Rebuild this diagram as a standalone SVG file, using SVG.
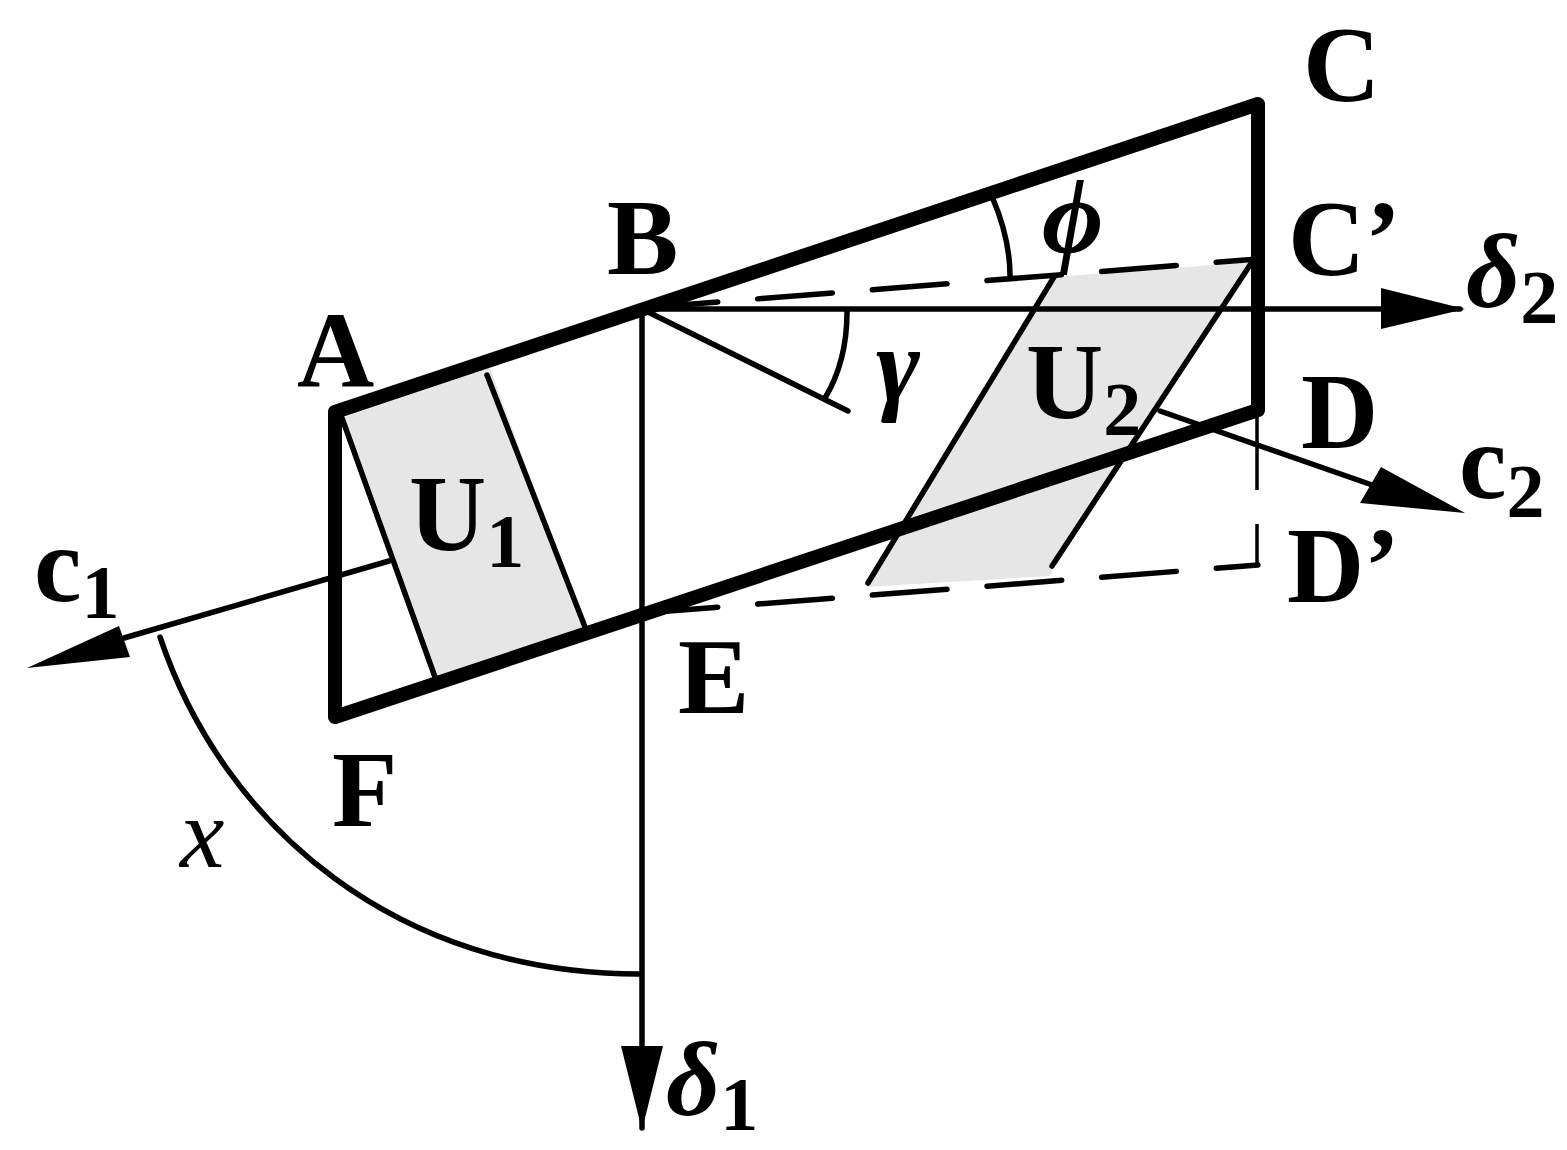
<svg xmlns="http://www.w3.org/2000/svg" width="1567" height="1150" viewBox="0 0 1567 1150">
<style>
text{font-family:"Liberation Serif",serif;fill:#000}
.b{font-weight:bold;font-size:107px}
.sub{font-weight:bold;font-size:76px;font-style:normal}
.g{font-style:italic;font-weight:bold;font-size:106px}
.th{fill:none;stroke:#000;stroke-width:14;stroke-linecap:round;stroke-linejoin:round}
.ln{fill:none;stroke:#000;stroke-width:5.5;stroke-linecap:round}
.hair{fill:none;stroke:#000;stroke-width:3.5}
.da{fill:none;stroke:#000;stroke-width:5.5;stroke-linecap:round;stroke-dasharray:75 40}
.sh{fill:#e6e6e6}
</style>
<rect width="1567" height="1150" fill="#fff"/>
<g id="shades">
<polygon class="sh" points="342,418 490,368 585,627 436,680"/>
<polygon class="sh" points="1055,277 1252,262 1054,566 1050,576 866,587"/>
</g>
<g id="connectors">
<path class="ln" d="M642,309H1460"/>
<path d="M1381,288L1465,309L1381,329Z"/>
<path class="ln" d="M642,309V1128"/>
<path d="M621,1046L642,1130L663,1046Z"/>
<path class="ln" d="M389,561L124,638"/>
<path d="M119,626L27,668L130,657Z"/>
<path class="ln" d="M1160,411L1375,486"/>
<path d="M1381,467L1465,513L1360,503Z"/>
<path class="ln" d="M642,309L848,411"/>
<path class="ln" d="M847,312C847,345 840,373 825,398"/>
<path class="ln" d="M993,199C1004,225 1010,250 1010,276"/>
<path class="ln" d="M160,637C225,830 400,975 641,974"/>
<path class="ln" d="M342,418L435,677M487,375L585,627"/>
<path class="ln" d="M1054,277L868,583M1252,262L1052,566"/>
<path class="da" d="M643,308L1258,259"/>
<path class="da" d="M643,613L1258,565"/>
<path class="hair" d="M1257,415V490M1257,524V567"/>
</g>
<g id="frame"><path class="th" d="M335,412L1258,104V410L335,717Z"/></g>
<g id="label-A"><text class="b" x="297" y="387">A</text></g>
<g id="label-B"><text class="b" x="607" y="274">B</text></g>
<g id="label-C"><text class="b" x="1303" y="101">C</text></g>
<g id="label-Cp"><text class="b" x="1288" y="275">C’</text></g>
<g id="label-D"><text class="b" x="1301" y="448">D</text></g>
<g id="label-Dp"><text class="b" x="1287" y="602">D’</text></g>
<g id="label-E"><text class="b" x="678" y="713">E</text></g>
<g id="label-F"><text class="b" x="332" y="826">F</text></g>
<g id="label-U1"><text class="b" x="409" y="550">U<tspan class="sub" dy="17">1</tspan></text></g>
<g id="label-U2"><text class="b" x="1026" y="418">U<tspan class="sub" dy="17">2</tspan></text></g>
<g id="label-c1"><text class="b" x="34" y="601">c<tspan class="sub" dy="17">1</tspan></text></g>
<g id="label-c2"><text class="b" x="1459" y="498">c<tspan class="sub" dy="19">2</tspan></text></g>
<g id="label-d1"><text class="g" x="666" y="1115">δ<tspan class="sub" dy="15">1</tspan></text></g>
<g id="label-d2"><text class="g" x="1466" y="307">δ<tspan class="sub" dy="16">2</tspan></text></g>
<g id="label-phi"><text class="g" x="1042" y="252">ϕ</text></g>
<g id="label-gamma"><text class="g" x="876" y="400">γ</text></g>
<g id="label-x"><text style="font-style:italic;font-size:100px" x="180" y="867">x</text></g>
</svg>
